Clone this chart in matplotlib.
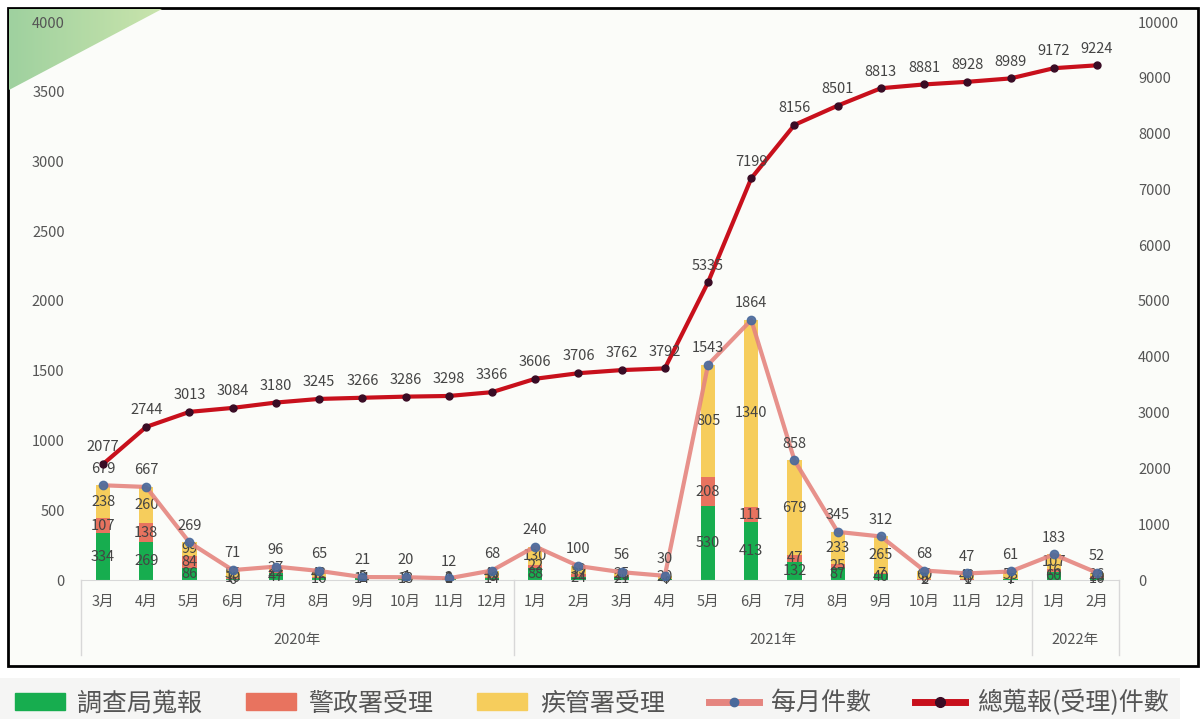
import matplotlib.pyplot as plt
import matplotlib.transforms as mtransforms
from matplotlib.patches import Rectangle, Polygon, Patch
from matplotlib.lines import Line2D
from matplotlib.colors import LinearSegmentedColormap
import numpy as np

plt.rcParams['font.family'] = ['Noto Sans CJK TC', 'DejaVu Sans']

months = ['3月', '4月', '5月', '6月', '7月', '8月', '9月', '10月', '11月', '12月',
          '1月', '2月', '3月', '4月', '5月', '6月', '7月', '8月', '9月', '10月', '11月', '12月',
          '1月', '2月']
years = ['2020年', '2021年', '2022年']
year_span = [(0, 9), (10, 21), (22, 23)]

# 調查局蒐報 / 警政署受理 / 疾管署受理
mjib = [334, 269, 86, 6, 47, 16, 14, 13, 9, 14, 88, 24, 21, 4, 530, 413, 132, 87, 40, 2, 1, 7, 60, 16]
police = [107, 138, 84, 10, 22, 7, 2, 3, 1, 8, 22, 17, 10, 6, 208, 111, 47, 25, 7, 6, 6, 1, 16, 10]
cdc = [238, 260, 99, 55, 27, 42, 5, 4, 2, 46, 130, 59, 25, 20, 805, 1340, 679, 233, 265, 60, 40, 53, 107, 26]
monthly = [679, 667, 269, 71, 96, 65, 21, 20, 12, 68, 240, 100, 56, 30, 1543, 1864, 858, 345, 312, 68, 47, 61, 183, 52]
cumulative = [2077, 2744, 3013, 3084, 3180, 3245, 3266, 3286, 3298, 3366, 3606, 3706, 3762, 3792,
              5335, 7199, 8156, 8501, 8813, 8881, 8928, 8989, 9172, 9224]

c_green = '#17ad4f'
c_red = '#e8735f'
c_yellow = '#f6cd5c'
c_month = '#e5857f'
c_mmark = '#4a6a9c'
c_cum = '#c8101c'
c_cmark = '#3a0c25'
txt = '#444444'
fs = 10.5

fig = plt.figure(figsize=(12.04, 7.19), dpi=100, facecolor='white')

# background: border box, green corner, legend strip
bg = fig.add_axes([0, 0, 1, 1], zorder=-1)
bg.set_xlim(0, 1204)
bg.set_ylim(719, 0)
bg.axis('off')
bg.add_patch(Rectangle((0, 678), 1180, 41, facecolor='#f5f5f4', edgecolor='none'))
bg.add_patch(Rectangle((8, 8), 1190, 658, facecolor='#fbfcf9', edgecolor='black', lw=2))
tri = Polygon([(9, 9), (162, 9), (9, 90)], closed=True, facecolor='none', edgecolor='none')
bg.add_patch(tri)
grad = np.linspace(0, 1, 100).reshape(1, -1)
im = bg.imshow(grad, extent=(9, 162, 90, 9),
               cmap=LinearSegmentedColormap.from_list('g', ['#9fd19f', '#c9e4ac']),
               aspect='auto', zorder=1)
im.set_clip_path(tri)

ax = fig.add_axes([81.4 / 1204, 139 / 719, 1037.2 / 1204, 558 / 719])
ax.patch.set_alpha(0)
x = np.arange(len(months))
w = 0.33
b1 = np.array(mjib)
b2 = b1 + np.array(police)
ax.bar(x, mjib, w, color=c_green, zorder=2)
ax.bar(x, police, w, bottom=b1, color=c_red, zorder=2)
ax.bar(x, cdc, w, bottom=b2, color=c_yellow, zorder=2)
for i in range(len(x)):
    for v, b in ((mjib[i], 0), (police[i], b1[i]), (cdc[i], b2[i])):
        ax.text(x[i], b + v / 2, str(v), ha='center', va='center', fontsize=fs, color=txt, zorder=3)

ax.plot(x, monthly, color=c_month, lw=3, alpha=0.9, zorder=4,
        marker='o', ms=6, mfc=c_mmark, mec=c_mmark)
for i, v in enumerate(monthly):
    ax.annotate(str(v), (x[i], v), xytext=(0, 7), textcoords='offset points',
                ha='center', va='bottom', fontsize=fs, color=txt, zorder=5)

ax.set_xlim(-0.5, len(months) - 0.5)
ax.set_ylim(0, 4000)
ax.set_yticks(range(0, 4001, 500))
ax.set_xticks(x)
ax.set_xticklabels(months)
ax.tick_params(axis='x', length=0, pad=11, labelsize=fs, labelcolor='#555555')
ax.tick_params(axis='y', length=0, pad=12, labelsize=fs, labelcolor='#555555')
for s in ['top', 'left', 'right']:
    ax.spines[s].set_visible(False)
ax.spines['bottom'].set_color('#d8d8d8')

trans = mtransforms.blended_transform_factory(ax.transData, ax.transAxes)
for sep in [-0.5, 9.5, 21.5, 23.5]:
    ax.add_line(Line2D([sep, sep], [0, -75 / 558], transform=trans, color='#d8d8d8', lw=1, clip_on=False))
for name, (a, b) in zip(years, year_span):
    ax.text((a + b) / 2, -60 / 558, name, transform=trans, ha='center', va='center',
            fontsize=fs, color='#555555')

ax2 = ax.twinx()
ax2.set_ylim(0, 10000)
ax2.set_yticks(range(0, 10001, 1000))
ax2.tick_params(axis='y', length=0, pad=14, labelsize=fs, labelcolor='#555555')
for s in ax2.spines.values():
    s.set_visible(False)
ax2.plot(x, cumulative, color=c_cum, lw=3, zorder=4,
         marker='o', ms=5, mfc=c_cmark, mec=c_cmark)
for i, v in enumerate(cumulative):
    ax2.annotate(str(v), (x[i], v), xytext=(0, 7), textcoords='offset points',
                 ha='center', va='bottom', fontsize=fs, color=txt, zorder=5)

handles = [Patch(color=c_green), Patch(color=c_red), Patch(color=c_yellow),
           Line2D([], [], color=c_month, lw=5, marker='o', ms=6, mfc=c_mmark, mec=c_mmark),
           Line2D([], [], color=c_cum, lw=5, marker='o', ms=7, mfc=c_cmark, mec=c_cmark)]
labels = ['調查局蒐報', '警政署受理', '疾管署受理', '每月件數', '總蒐報(受理)件數']
fig.legend(handles, labels, loc='center', bbox_to_anchor=(0.4917, 0.022), ncol=5,
           frameon=False, fontsize=18, handlelength=2.0, handleheight=0.65,
           columnspacing=1.75, handletextpad=0.5, labelcolor='#555555')

fig.savefig('out.png', dpi=100, facecolor='white')
